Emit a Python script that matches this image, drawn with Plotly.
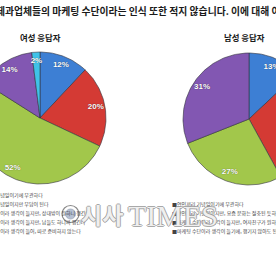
import numpy as np
import plotly.graph_objects as go

W, H = 276, 260

title_text = "제과업체들의 마케팅 수단이라는 인식 또한 적지 않습니다. 이에 대해 여러분은"
female_title = "여성 응답자"
male_title = "남성 응답자"

female_values = [12, 20, 52, 14, 2]
male_values = [13, 29, 27, 31]
slice_colors = ["#3d7fd4", "#d43a34", "#a2c74b", "#8257b2", "#3fc2e8"]

female_legend = [
    "■ 연인들의 기념일이기에 무관하다",
    "■ 연인들의 기념일이지만 부담이 된다",
    "■ 마케팅 수단이라 생각이 들지만, 상대방이 원하니 챙긴다",
    "■ 마케팅 수단이라 생각이 들지만, 남들도 하니까 챙긴다",
    "■ 마케팅 수단이라 생각이 들어, 따로 준비하지 않는다",
]
male_legend = [
    "■연인끼리 기념일이기에 무관하다",
    "■연인끼리 기념일이지만, 요즘 문화는 절충된 듯하다",
    "■마케팅 수단이라 생각이 들지만, 여자친구가 원하니 챙긴다",
    "■마케팅 수단이라 생각이 들기에, 챙기지 않아도 된다",
]

# layout constants (pixels)
PIES = [
    dict(values=female_values, cx=40, cy=118, r=66),
    dict(values=male_values, cx=249, cy=119, r=66),
]

fig = go.Figure()

for pie in PIES:
    vals = np.array(pie["values"], dtype=float)
    cum = np.concatenate([[0], np.cumsum(vals)]) / vals.sum() * 2 * np.pi
    cx, cy, r = pie["cx"], pie["cy"], pie["r"]
    for i, v in enumerate(vals):
        a0, a1 = cum[i], cum[i + 1]
        n = max(3, int(np.degrees(a1 - a0)) + 2)
        th = np.linspace(a0, a1, n)
        xs = np.concatenate([[cx], cx + r * np.sin(th), [cx]])
        ys = np.concatenate([[cy], cy - r * np.cos(th), [cy]])
        fig.add_trace(go.Scatter(
            x=xs, y=ys, mode="lines", fill="toself",
            fillcolor=slice_colors[i],
            line=dict(color="rgba(50,50,60,0.75)", width=0.8),
            hoverinfo="skip", showlegend=False,
        ))
    # labels
    mids = (cum[:-1] + cum[1:]) / 2
    lr = 0.86 * r
    fig.add_trace(go.Scatter(
        x=cx + lr * np.sin(mids), y=cy - lr * np.cos(mids),
        mode="text", text=[f"{int(v)}%" for v in vals],
        textfont=dict(family="Liberation Sans", size=8, color="white", weight="bold",
                      shadow="0px 0px 1px rgba(0,0,0,0.6)"),
        hoverinfo="skip", showlegend=False, cliponaxis=False,
    ))

def px(x):
    return x / W

def py(y):
    return 1 - y / H

ann = []
ann.append(dict(x=px(-6), y=py(11), xref="paper", yref="paper", xanchor="left", yanchor="middle",
                text=title_text, showarrow=False,
                font=dict(family="Noto Sans CJK KR", size=9.8, color="#1a1a1a", weight="bold")))
ann.append(dict(x=px(40), y=py(37.5), xref="paper", yref="paper", xanchor="center", yanchor="middle",
                text=female_title, showarrow=False,
                font=dict(family="Noto Sans CJK KR", size=8.4, color="#1a1a1a", weight="bold")))
ann.append(dict(x=px(244), y=py(37.5), xref="paper", yref="paper", xanchor="center", yanchor="middle",
                text=male_title, showarrow=False,
                font=dict(family="Noto Sans CJK KR", size=8.4, color="#1a1a1a", weight="bold")))

for k, t in enumerate(female_legend):
    ann.append(dict(x=px(-32), y=py(195 + 9 * k), xref="paper", yref="paper", xanchor="left",
                    yanchor="middle", text=t, showarrow=False,
                    font=dict(family="Noto Sans CJK KR", size=5, color="#444")))
for k, t in enumerate(male_legend):
    ann.append(dict(x=px(170), y=py(204 + 9 * k), xref="paper", yref="paper", xanchor="left",
                    yanchor="middle", text=t, showarrow=False,
                    font=dict(family="Noto Sans CJK KR", size=5, color="#444")))

# watermark
outline = ("-1px 0 #9a9a9a, 1px 0 #9a9a9a, 0 -1px #9a9a9a, 0 1px #9a9a9a")
ann.append(dict(x=px(79), y=py(214), xref="paper", yref="paper", xanchor="left", yanchor="middle",
                text="시사", showarrow=False,
                font=dict(family="Noto Sans CJK KR", size=23, color="rgba(255,255,255,0.85)",
                          weight="bold", shadow=outline)))
ann.append(dict(x=px(126), y=py(215), xref="paper", yref="paper", xanchor="left", yanchor="middle",
                text="TIMES", showarrow=False,
                font=dict(family="Liberation Serif", size=30, color="rgba(255,255,255,0.85)",
                          shadow=outline)))

shapes = [
    dict(type="circle", xref="paper", yref="paper",
         x0=px(62), x1=px(79), y0=py(222.5), y1=py(205.5),
         line=dict(color="#8a8a8a", width=1.2), fillcolor="rgba(255,255,255,0.8)", layer="above"),
    dict(type="circle", xref="paper", yref="paper",
         x0=px(65.5), x1=px(75.5), y0=py(219), y1=py(209),
         line=dict(color="#a0a8b8", width=0.8), fillcolor="rgba(120,140,175,0.55)", layer="above"),
]

fig.update_layout(
    width=W, height=H,
    margin=dict(l=0, r=0, t=0, b=0),
    paper_bgcolor="white", plot_bgcolor="white",
    xaxis=dict(range=[0, W], visible=False, showgrid=False, zeroline=False, fixedrange=True),
    yaxis=dict(range=[H, 0], visible=False, showgrid=False, zeroline=False, fixedrange=True),
    annotations=ann, shapes=shapes,
    showlegend=False,
)

fig.write_html("out.html", config=dict(displayModeBar=False))
